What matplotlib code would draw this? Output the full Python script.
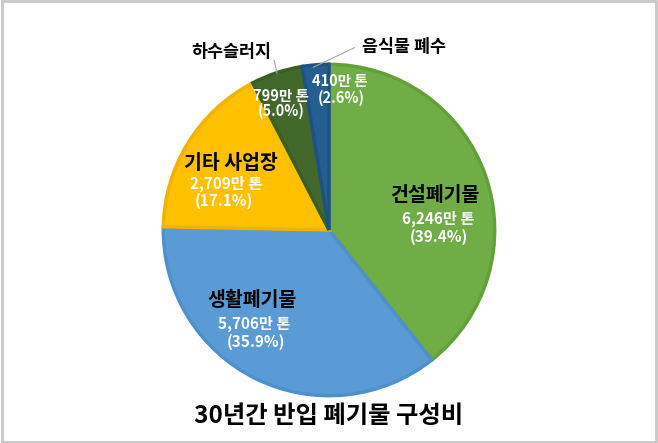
import matplotlib
matplotlib.use("Agg")
import matplotlib.pyplot as plt
from matplotlib.patches import Rectangle

plt.rcParams['font.family'] = ['Noto Sans CJK KR', 'DejaVu Sans']

categories = ['건설폐기물', '생활폐기물', '기타 사업장', '하수슬러지', '음식물 폐수']
values = [6246, 5706, 2709, 799, 410]          # 만 톤
amount_labels = ['6,246만 톤', '5,706만 톤', '2,709만 톤', '799만 톤', '410만 톤']
pct_labels = ['(39.4%)', '(35.9%)', '(17.1%)', '(5.0%)', '(2.6%)']
colors = ['#70AD47', '#5B9BD5', '#FFC000', '#43682B', '#255E91']
edges = ['#63A03B', '#4F8FCB', '#F0B400', '#3A5E24', '#1F5283']
title = '30년간 반입 폐기물 구성비'

W, H = 658, 443
fig = plt.figure(figsize=(W/100, H/100), dpi=100)
cx, cy, R = 329, 230, 169
ax = fig.add_axes([(cx-R)/W, (H-cy-R)/H, 2*R/W, 2*R/H])
wedges, _ = ax.pie(values, colors=colors, startangle=90, counterclock=False,
                   radius=1, wedgeprops=dict(linewidth=2.5))
for w, e in zip(wedges, edges):
    w.set_edgecolor(e)
ax.set_xlim(-1.02, 1.02)
ax.set_ylim(-1.02, 1.02)
ax.set_aspect('equal')
ax.axis('off')

def d(px, py):
    return ((px-cx)/R, (cy-py)/R)

bold = dict(fontweight='bold', ha='center', va='center', clip_on=False)
big, mid, small = 14, 11, 10.5

# 건설폐기물
ax.text(*d(437, 195), categories[0], fontsize=big, color='black', **bold)
ax.text(*d(440, 219), amount_labels[0], fontsize=mid, color='white', **bold)
ax.text(*d(441, 237), pct_labels[0], fontsize=mid, color='white', **bold)
# 생활폐기물
ax.text(*d(251, 302), categories[1], fontsize=big, color='black', **bold)
ax.text(*d(253, 326), amount_labels[1], fontsize=mid, color='white', **bold)
ax.text(*d(254, 344), pct_labels[1], fontsize=mid, color='white', **bold)
# 기타 사업장
ax.text(*d(229, 162), categories[2], fontsize=big, color='black', **bold)
ax.text(*d(224, 183), amount_labels[2], fontsize=mid, color='white', **bold)
ax.text(*d(222, 200), pct_labels[2], fontsize=mid, color='white', **bold)
# 하수슬러지
ax.text(*d(229, 48), categories[3], fontsize=12.5, color='black', **bold)
ax.text(*d(280, 93), amount_labels[3], fontsize=small, color='white', **bold)
ax.text(*d(280, 108), pct_labels[3], fontsize=small, color='white', **bold)
x0, y0 = d(273, 57); x1, y1 = d(276, 70)
ax.plot([x0, x1], [y0, y1], color='#A6A6A6', lw=0.8, clip_on=False)
# 음식물 폐수
ax.text(*d(405, 43), categories[4], fontsize=12.5, color='black', **bold)
ax.text(*d(340, 78), amount_labels[4], fontsize=small, color='white', **bold)
ax.text(*d(341, 95), pct_labels[4], fontsize=small, color='white', **bold)
x0, y0 = d(355, 44); x1, y1 = d(313, 64)
ax.plot([x0, x1], [y0, y1], color='#A6A6A6', lw=0.8, clip_on=False)

fig.text(0.5, 1-416/H, title, fontsize=17.5, fontweight='bold', ha='center', va='center')

fig.patches.append(Rectangle((0.003, 0.003), 0.994, 0.994, transform=fig.transFigure,
                             fill=False, edgecolor='#C8C8C8', linewidth=2))

fig.savefig('out.png', dpi=100)
